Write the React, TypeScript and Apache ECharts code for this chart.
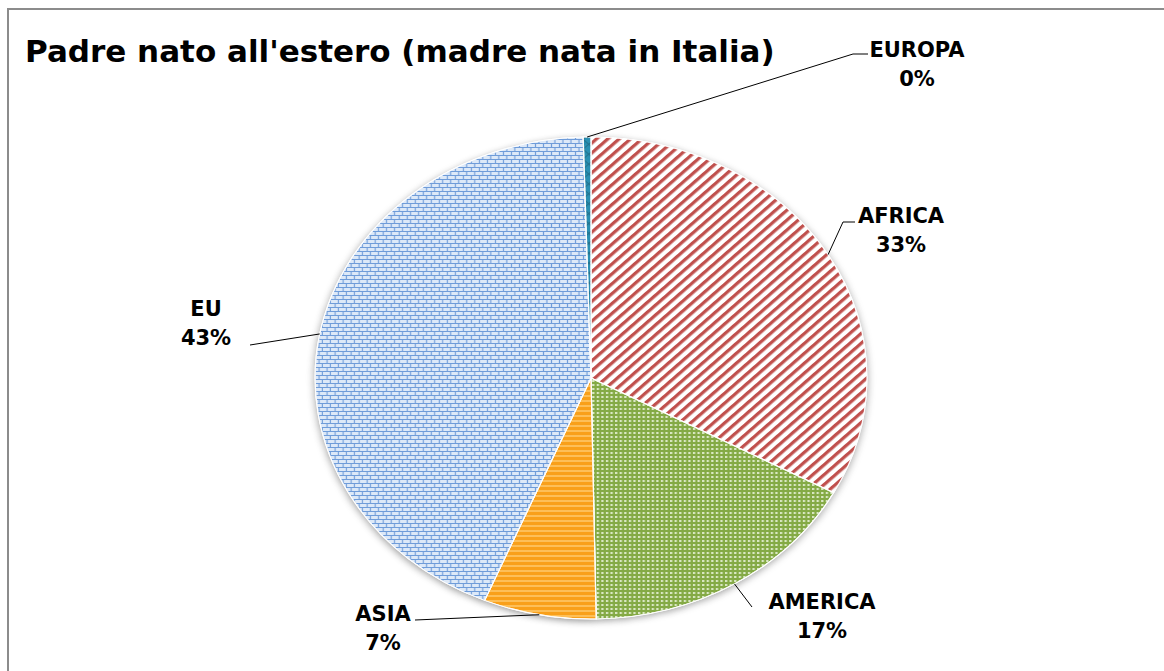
import React, { useEffect, useRef } from 'react';
import * as echarts from 'echarts';

// ---- data ----
const categories = ['AFRICA', 'AMERICA', 'ASIA', 'EU', 'EUROPA'];
const shares = [32.9, 16.8, 6.6, 43.25, 0.45];
const titleText = "Padre nato all'estero (madre nata in Italia)";

// ---- layout ----
const W = 1164;
const H = 671;
const CX = 591;
const CY = 378;
const R = 241;
const STRETCH = 1.145; // horizontal stretch of the pie (elliptical look)
const FONT = "'DejaVu Sans', 'Liberation Sans', sans-serif";

// label block centres and leader-line elbows, in data order
const labelSpots = [
  { x: 901, y: 230, path: [[843, 222], [855, 222]] },
  { x: 822, y: 616, path: [[752, 607]] },
  { x: 383, y: 628, path: [[415, 620]] },
  { x: 206, y: 323, path: [[250, 345]] },
  { x: 917, y: 64, path: [[853, 54], [868, 54]] },
];

const sliceStyles: any[] = [
  {
    color: '#ffffff',
    decal: { symbol: 'rect', symbolSize: 1, color: '#C0504D', dashArrayX: [1, 0], dashArrayY: [2.5, 3.5], rotation: -Math.PI / 4 },
  },
  {
    color: '#84AA45',
    decal: { symbol: 'rect', symbolSize: 1, color: 'rgba(240,247,228,0.8)', dashArrayX: [2, 2], dashArrayY: [2, 2], rotation: 0 },
  },
  {
    color: '#F9A01A',
    decal: { symbol: 'rect', symbolSize: 1, color: 'rgba(255,212,130,0.6)', dashArrayX: [1, 0], dashArrayY: [1.5, 3], rotation: 0 },
  },
  {
    color: '#6F9CD9',
    decal: { symbol: 'rect', symbolSize: 1, color: '#DDE9F8', dashArrayX: [[6, 1], [3, 1, 3, 0]], dashArrayY: [3, 1], rotation: 0 },
  },
  { color: '#2A90B2', decal: 'none' },
];

export default function App() {
  const pieRef = useRef<HTMLDivElement>(null);
  const textRef = useRef<HTMLDivElement>(null);

  useEffect(() => {
    if (!pieRef.current || !textRef.current) return;
    const pie = echarts.init(pieRef.current, undefined, { renderer: 'svg' });
    const txt = echarts.init(textRef.current, undefined, { renderer: 'svg' });

    const pieBase = {
      type: 'pie',
      center: [CX, CY],
      radius: R,
      startAngle: 90,
      clockwise: true,
      silent: true,
      label: { show: false },
      labelLine: { show: false },
    };

    pie.setOption({
      animation: false,
      aria: { enabled: true, decal: { show: true } },
      series: [
        {
          ...pieBase,
          // shadow layer underneath the patterned slices
          data: categories.map((name, i) => ({
            name,
            value: shares[i],
            itemStyle: {
              color: '#ffffff',
              decal: 'none',
              borderWidth: 0,
              shadowBlur: 7,
              shadowColor: 'rgba(0,0,0,0.35)',
              shadowOffsetY: 2,
            },
          })),
        },
        {
          ...pieBase,
          data: categories.map((name, i) => ({
            name,
            value: shares[i],
            itemStyle: { borderColor: 'rgba(255,255,255,0.9)', borderWidth: 1, ...sliceStyles[i] },
          })),
        },
      ],
    });

    txt.setOption({
      animation: false,
      title: {
        text: titleText,
        left: 25,
        top: 35,
        padding: 0,
        textStyle: { fontFamily: FONT, fontWeight: 'bold', fontSize: 31, color: '#000' },
      },
      graphic: [
        {
          type: 'rect',
          silent: true,
          shape: { x: 8, y: 9, width: W + 20, height: H + 20 },
          style: { fill: 'none', stroke: '#8c8c8c', lineWidth: 2 },
        },
      ],
      series: [
        {
          type: 'pie',
          center: [CX, CY],
          radius: R,
          startAngle: 90,
          clockwise: true,
          silent: true,
          itemStyle: { color: 'rgba(0,0,0,0)' },
          label: {
            show: true,
            formatter: (p: any) => `${p.name}\n${Math.round(p.percent)}%`,
            fontFamily: FONT,
            fontWeight: 'bold',
            fontSize: 21,
            lineHeight: 29,
            color: '#000',
            align: 'center',
          },
          labelLine: { show: true, length: 20, length2: 20, lineStyle: { color: '#000', width: 1 } },
          labelLayout: (p: any) => {
            const spot = labelSpots[p.dataIndex];
            const pts = p.labelLinePoints;
            const start = pts && pts[0] ? [CX + (pts[0][0] - CX) * STRETCH, pts[0][1]] : spot.path[0];
            return {
              x: spot.x,
              y: spot.y,
              align: 'center',
              verticalAlign: 'middle',
              labelLinePoints: [start, ...spot.path],
            };
          },
          data: categories.map((name, i) => ({ name, value: shares[i] })),
        },
      ],
    });

    return () => {
      pie.dispose();
      txt.dispose();
    };
  }, []);

  return (
    <div style={{ position: 'fixed', left: 0, top: 0, width: W, height: H, overflow: 'hidden', background: '#fff' }}>
      <div
        ref={pieRef}
        style={{
          position: 'absolute',
          left: 0,
          top: 0,
          width: W,
          height: H,
          transform: `scaleX(${STRETCH})`,
          transformOrigin: `${CX}px ${CY}px`,
        }}
      />
      <div ref={textRef} style={{ position: 'absolute', left: 0, top: 0, width: W, height: H }} />
    </div>
  );
}
